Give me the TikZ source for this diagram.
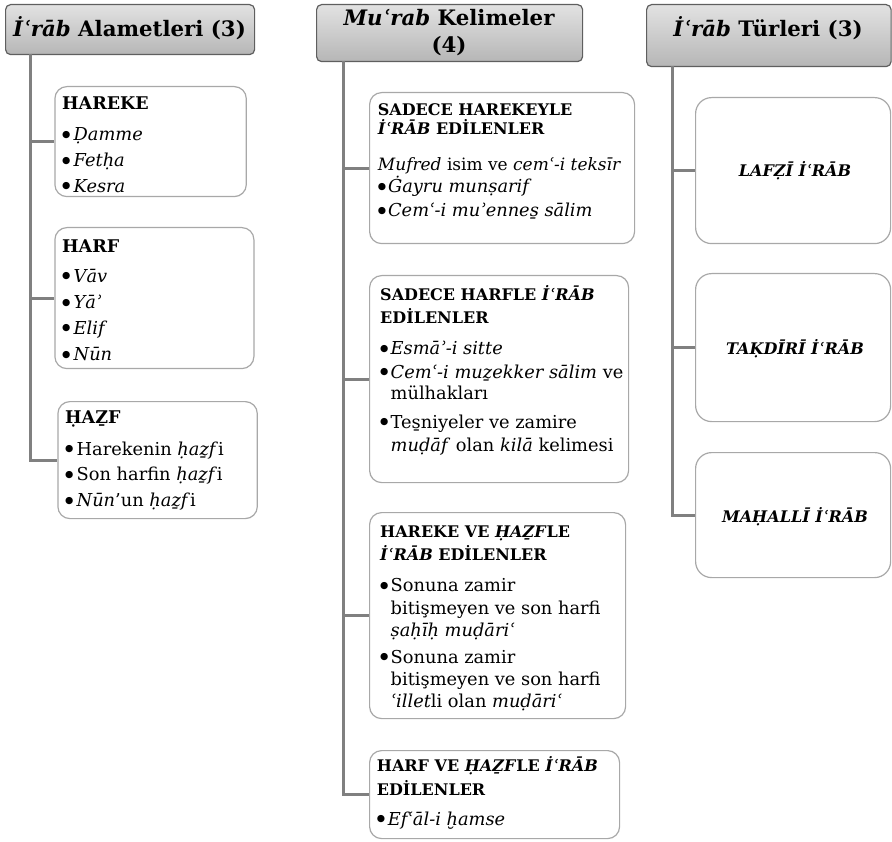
\documentclass[tikz,border=0pt]{standalone}
\usepackage{fontspec}
\setmainfont{DejaVu Serif}
\newfontfamily\bulfont{DejaVu Sans}

\definecolor{connc}{HTML}{808080}
\definecolor{hdrline}{HTML}{5F5F5F}
\definecolor{hdrtop}{HTML}{E2E2E2}
\definecolor{hdrbot}{HTML}{B6B6B6}
\definecolor{boxline}{HTML}{A8A8A8}

% font sizes
\newcommand\fBody{\fontsize{17.8pt}{22pt}\selectfont}
\newcommand\fTa{\fontsize{17.5pt}{22pt}\selectfont\bfseries}
\newcommand\fTb{\fontsize{16pt}{20pt}\selectfont\bfseries}
\newcommand\fHd{\fontsize{21.3pt}{26pt}\selectfont\bfseries}
\newcommand\fCt{\fontsize{16pt}{20pt}\selectfont\bfseries\itshape}

% stacked lines with explicit baseline distances
\newcommand\lines[1]{\vtop{\offinterlineskip#1}}
\newcommand\Ln[2]{\vskip#1\hbox{\smash{#2}}}
\newcommand\Cn[2]{\vskip#1\hbox{\hbox to 0pt{\hss\smash{#2}\hss}}}
\newcommand\bul{\raisebox{3.6pt}{\fontsize{9.5pt}{9.5pt}\bulfont ●}}
\newcommand\itm[2][10.5pt]{\hbox to #1{\bul\hss}#2}
\newcommand\cnt[2][10.5pt]{\hskip#1#2}

\tikzset{
  conn/.style={draw=connc, line width=3pt},
  hdr/.style={draw=hdrline, line width=1.2pt, rounded corners=5pt,
    top color=hdrtop, bottom color=hdrbot, anchor=north west, inner sep=0pt},
  cbox/.style={draw=boxline, line width=1.2pt, fill=white,
    rounded corners=12pt, anchor=north west, inner sep=0pt},
  txt/.style={anchor=base west, inner sep=0pt, font=\fBody},
  htxt/.style={anchor=base, inner sep=0pt, font=\fHd},
  ctxt/.style={anchor=base, inner sep=0pt, font=\fCt},
}

\begin{document}
\begin{tikzpicture}[x=1pt, y=-1pt]
\useasboundingbox (0,0) rectangle (892,842);

% ---------- headers ----------
\node[hdr, minimum width=249pt, minimum height=50pt] (h1) at (5,4) {};
\node[htxt] (h1t) at (129.5,37) {\textit{İʿrāb} Alametleri (3)};

\node[hdr, minimum width=266pt, minimum height=57pt] (h2) at (316,4) {};
\node[htxt] (h2t) at (449,26) {\lines{\Cn{0pt}{\textit{Muʿrab} Kelimeler}\Cn{27pt}{(4)}}};

\node[hdr, minimum width=244.5pt, minimum height=62pt] (h3) at (646,4) {};
\node[htxt] (h3t) at (768,37) {\textit{İʿrāb} Türleri (3)};

% ---------- column 1 ----------
\node[cbox, minimum width=191.4pt, minimum height=110pt] (a1) at (54.3,86) {};
\node[txt] (a1t) at (62,110) {\lines{%
  \Ln{0pt}{\fTa HAREKE}%
  \Ln{30.7pt}{\itm[11.5pt]{\textit{Ḍamme}}}%
  \Ln{26.3pt}{\itm[11.5pt]{\textit{Fetḥa}}}%
  \Ln{25.3pt}{\itm[11.5pt]{\textit{Kesra}}}}};

\node[cbox, minimum width=199pt, minimum height=141pt] (a2) at (54.3,227) {};
\node[txt] (a2t) at (62,252.3) {\lines{%
  \Ln{0pt}{\fTa HARF}%
  \Ln{30pt}{\itm[11.5pt]{\textit{Vāv}}}%
  \Ln{26.4pt}{\itm[11.5pt]{\textit{Yāʾ}}}%
  \Ln{25.6pt}{\itm[11.5pt]{\textit{Elif}}}%
  \Ln{26.4pt}{\itm[11.5pt]{\textit{Nūn}}}}};

\node[cbox, minimum width=199.4pt, minimum height=117pt] (a3) at (57.3,401) {};
\node[txt] (a3t) at (65,423.3) {\lines{%
  \Ln{0pt}{\fTa ḤAẔF}%
  \Ln{31.7pt}{\itm[11.5pt]{Harekenin \textit{ḥaẕf}i}}%
  \Ln{26pt}{\itm[11.5pt]{Son harfin \textit{ḥaẕf}i}}%
  \Ln{25.7pt}{\itm[11.5pt]{\textit{Nūn}'un \textit{ḥaẕf}i}}}};

% ---------- column 2 ----------
\node[cbox, minimum width=265pt, minimum height=151pt] (b1) at (369,92) {};
\node[txt] (b1t) at (377.7,115.7) {\lines{%
  \Ln{0pt}{\fTb SADECE HAREKEYLE}%
  \Ln{19.3pt}{\fTb\textit{İʿRĀB} EDİLENLER}%
  \Ln{35.7pt}{\fontsize{17pt}{22pt}\selectfont\textit{Mufred} isim ve \textit{cemʿ-i teksīr}}%
  \Ln{22.3pt}{\itm[10.2pt]{\textit{Ġayru munṣarif}}}%
  \Ln{23.7pt}{\itm[10.2pt]{\textit{Cemʿ-i muʾennes̱ sālim}}}}};

\node[cbox, minimum width=259pt, minimum height=207pt] (b2) at (369,275) {};
\node[txt] (b2t) at (380,300.7) {\lines{%
  \Ln{0pt}{\fTb SADECE HARFLE \textit{İʿRĀB}}%
  \Ln{22.6pt}{\fTb EDİLENLER}%
  \Ln{31.7pt}{\itm{\textit{Esmāʾ-i sitte}}}%
  \Ln{23.3pt}{\itm{\textit{Cemʿ-i muẕekker sālim} ve}}%
  \Ln{21.7pt}{\cnt{mülhakları}}%
  \Ln{28.3pt}{\itm{Tes̱niyeler ve zamire}}%
  \Ln{23.4pt}{\cnt{\textit{muḍāf} olan \textit{kilā} kelimesi}}}};

\node[cbox, minimum width=256pt, minimum height=206pt] (b3) at (369,512) {};
\node[txt] (b3t) at (380,537.3) {\lines{%
  \Ln{0pt}{\fTb HAREKE VE \textit{ḤAẔF}LE}%
  \Ln{22.7pt}{\fTb\textit{İʿRĀB} EDİLENLER}%
  \Ln{31.7pt}{\itm{Sonuna zamir}}%
  \Ln{22.3pt}{\cnt{bitişmeyen ve son harfi}}%
  \Ln{22.7pt}{\cnt{\textit{ṣaḥīḥ muḍāriʿ}}}%
  \Ln{26.6pt}{\itm{Sonuna zamir}}%
  \Ln{21.7pt}{\cnt{bitişmeyen ve son harfi}}%
  \Ln{22pt}{\cnt{\textit{ʿillet}li olan \textit{muḍāriʿ}}}}};

\node[cbox, minimum width=250pt, minimum height=88pt] (b4) at (369,750) {};
\node[txt] (b4t) at (376.7,771.7) {\lines{%
  \Ln{0pt}{\fTb HARF VE \textit{ḤAẔF}LE \textit{İʿRĀB}}%
  \Ln{23.3pt}{\fTb EDİLENLER}%
  \Ln{30pt}{\itm[11pt]{\textit{Efʿāl-i ḫamse}}}}};

% ---------- column 3 ----------
\node[cbox, rounded corners=16pt, minimum width=195pt, minimum height=146pt] (c1) at (695,97) {};
\node[ctxt] (c1t) at (795,177) {LAFẒĪ İʿRĀB};

\node[cbox, rounded corners=16pt, minimum width=195pt, minimum height=148pt] (c2) at (695,273) {};
\node[ctxt] (c2t) at (795,355) {TAḲDĪRĪ İʿRĀB};

\node[cbox, rounded corners=16pt, minimum width=195pt, minimum height=125pt] (c3) at (695,452) {};
\node[ctxt] (c3t) at (795,522) {MAḤALLĪ İʿRĀB};

% ---------- connectors ----------
\coordinate (r1) at (30.5,54);
\coordinate (r2) at (343,61);
\coordinate (r3) at (672,66);
\draw[conn] (r1) |- (a3.west);
\draw[conn] (r1) |- (a2.west);
\draw[conn] (r1) |- (a1.west);
\draw[conn] (r2) |- (b4.west);
\draw[conn] (r2) |- (b3.west);
\draw[conn] (r2) |- (b2.west);
\draw[conn] (r2) |- (b1.west);
\draw[conn] (r3) |- (c3.west);
\draw[conn] (r3) |- (c2.west);
\draw[conn] (r3) |- (c1.west);
\end{tikzpicture}
\end{document}
